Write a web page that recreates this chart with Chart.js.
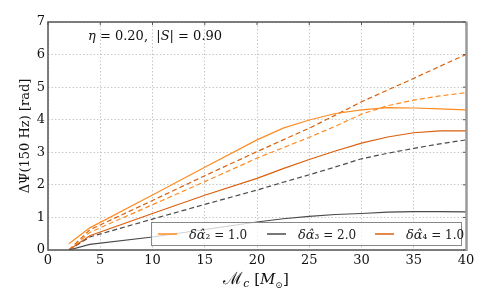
<!DOCTYPE html>
<html>
<head>
<meta charset="utf-8">
<script src="https://cdn.jsdelivr.net/npm/chart.js@4/dist/chart.umd.min.js"></script>
<style>
  html, body { margin: 0; padding: 0; background: #fff; }
</style>
</head>
<body>
<canvas id="chart" width="491" height="303"></canvas>
<script>
// chirp mass samples (M_sun)
const chirpMass = [2, 4, 10, 15, 20, 22.5, 25, 27.5, 30, 32.5, 35, 37.5, 40];

// phase difference at 150 Hz, rad
const alpha2Solid = [0.19, 0.68, 1.69, 2.54, 3.38, 3.74, 3.99, 4.19, 4.30, 4.37, 4.36, 4.33, 4.30];
const alpha2Dashed = [0.0, 0.54, 1.39, 2.10, 2.82, 3.14, 3.46, 3.80, 4.17, 4.43, 4.60, 4.73, 4.83];
const alpha3Solid = [0.0, 0.17, 0.40, 0.63, 0.86, 0.96, 1.03, 1.09, 1.12, 1.16, 1.18, 1.18, 1.17];
const alpha3Dashed = [0.0, 0.40, 0.95, 1.40, 1.84, 2.08, 2.31, 2.55, 2.80, 2.97, 3.12, 3.26, 3.38];
const alpha4Solid = [0.0, 0.44, 1.12, 1.68, 2.20, 2.50, 2.78, 3.04, 3.28, 3.47, 3.60, 3.66, 3.66];
const alpha4Dashed = [0.0, 0.62, 1.52, 2.28, 3.02, 3.38, 3.74, 4.14, 4.55, 4.91, 5.27, 5.64, 6.00];

const legendLabels = ["δα̂₂ = 1.0", "δα̂₃ = 2.0", "δα̂₄ = 1.0"];

const lightOrange = "#ff8c22";
const darkOrange = "#d9600e";
const grey = "#4a4a4a";

const serif = "'DejaVu Serif', serif";

const toPoints = function (vals) {
  return vals.map((v, i) => ({ x: chirpMass[i], y: v }));
};

const makeSet = function (vals, color, dashed, label) {
  return {
    label: label,
    data: toPoints(vals),
    borderColor: color,
    borderWidth: 1.2,
    borderDash: dashed ? [5, 3] : [],
    pointRadius: 0,
    tension: 0,
    fill: false,
  };
};

const drawRuns = function (ctx, runs, x, y, align) {
  let w = 0;
  runs.forEach((r) => {
    ctx.font = r[1];
    w += ctx.measureText(r[0]).width;
  });
  let cx = align === "center" ? x - w / 2 : x;
  runs.forEach((r) => {
    ctx.font = r[1];
    ctx.fillText(r[0], cx, y + (r[2] || 0));
    cx += ctx.measureText(r[0]).width;
  });
};

// frame, inner ticks, annotation, x title and legend inside the plot
const decorations = {
  id: "decorations",
  afterDraw(chart) {
    const ctx = chart.ctx;
    const a = chart.chartArea;
    const xs = chart.scales.x;
    const ys = chart.scales.y;
    ctx.save();

    // inner ticks on top and right
    ctx.strokeStyle = "#555";
    ctx.lineWidth = 1;
    ctx.beginPath();
    xs.ticks.forEach((t) => {
      const px = xs.getPixelForValue(t.value);
      ctx.moveTo(px, a.top);
      ctx.lineTo(px, a.top + 3);
    });
    ys.ticks.forEach((t) => {
      const py = ys.getPixelForValue(t.value);
      ctx.moveTo(a.right, py);
      ctx.lineTo(a.right - 3, py);
    });
    ctx.stroke();

    // legend box
    const items = chart.data.datasets.filter((d) => d.label);
    const lx = 151, ly = 222, lw = 310, lh = 23;
    ctx.fillStyle = "rgba(255,255,255,0.75)";
    ctx.fillRect(lx, ly, lw, lh);
    ctx.strokeStyle = "#888";
    ctx.lineWidth = 1;
    ctx.strokeRect(lx + 0.5, ly + 0.5, lw, lh);
    const slots = [158, 267, 375];
    items.forEach((d, i) => {
      const sx = slots[i];
      ctx.strokeStyle = d.borderColor;
      ctx.lineWidth = 1.5;
      ctx.beginPath();
      ctx.moveTo(sx, ly + 12);
      ctx.lineTo(sx + 19, ly + 12);
      ctx.stroke();
      ctx.fillStyle = "#222";
      ctx.textBaseline = "alphabetic";
      const main = d.label.slice(0, 3);
      const rest = d.label.slice(3);
      drawRuns(ctx, [
        [main, "italic 13px " + serif],
        [rest, "12px " + serif],
      ], sx + 31, ly + 16.5);
    });

    // frame
    ctx.strokeStyle = "#555";
    ctx.lineWidth = 1.5;
    ctx.beginPath();
    ctx.moveTo(a.right, a.top);
    ctx.lineTo(a.left, a.top);
    ctx.lineTo(a.left, a.bottom);
    ctx.lineTo(a.right, a.bottom);
    ctx.stroke();
    ctx.strokeStyle = "#9a9a9a";
    ctx.lineWidth = 2.5;
    ctx.beginPath();
    ctx.moveTo(a.right + 0.5, a.top - 0.5);
    ctx.lineTo(a.right + 0.5, a.bottom + 1);
    ctx.stroke();

    // annotation
    ctx.fillStyle = "#111";
    ctx.textBaseline = "alphabetic";
    drawRuns(ctx, [
      ["η", "italic 13px " + serif],
      [" = 0.20,  |", "13px " + serif],
      ["S", "italic 13px " + serif],
      ["| = 0.90", "13px " + serif],
    ], 88, 40);

    // x axis title
    drawRuns(ctx, [
      ["ℳ", "17px " + serif],
      ["c", "italic 11px " + serif, 3],
      [" [", "15px " + serif],
      ["M", "italic 15px " + serif],
      ["⊙", "9px " + serif, 4],
      ["]", "15px " + serif],
    ], 256, 284, "center");

    ctx.restore();
  },
};

const chart = new Chart(document.getElementById("chart"), {
  type: "line",
  data: {
    datasets: [
      makeSet(alpha2Solid, lightOrange, false, legendLabels[0]),
      makeSet(alpha3Solid, grey, false, legendLabels[1]),
      makeSet(alpha4Solid, darkOrange, false, legendLabels[2]),
      makeSet(alpha2Dashed, lightOrange, true),
      makeSet(alpha3Dashed, grey, true),
      makeSet(alpha4Dashed, darkOrange, true),
    ],
  },
  options: {
    responsive: false,
    animation: false,
    devicePixelRatio: 1,
    layout: { padding: { top: 22, right: 25, left: 0, bottom: 0 } },
    plugins: {
      legend: { display: false },
      tooltip: { enabled: false },
    },
    scales: {
      x: {
        type: "linear",
        min: 0,
        max: 40,
        ticks: {
          stepSize: 5,
          padding: 3,
          color: "#111",
          font: { family: serif, size: 13 },
          maxRotation: 0,
        },
        grid: { color: "#c8c8c8", drawTicks: false },
        border: { display: false, dash: [1.5, 2] },
        afterFit(axis) {
          axis.height = 53;
        },
      },
      y: {
        min: 0,
        max: 7,
        ticks: {
          stepSize: 1,
          padding: 3,
          color: "#111",
          font: { family: serif, size: 13 },
        },
        grid: { color: "#c8c8c8", drawTicks: false },
        border: { display: false, dash: [1.5, 2] },
        title: {
          display: true,
          text: "ΔΨ(150 Hz) [rad]",
          color: "#111",
          font: { family: serif, size: 13 },
          padding: { top: 18, bottom: 0 },
        },
        afterFit(axis) {
          axis.width = 48;
        },
      },
    },
  },
  plugins: [decorations],
});
</script>
</body>
</html>
